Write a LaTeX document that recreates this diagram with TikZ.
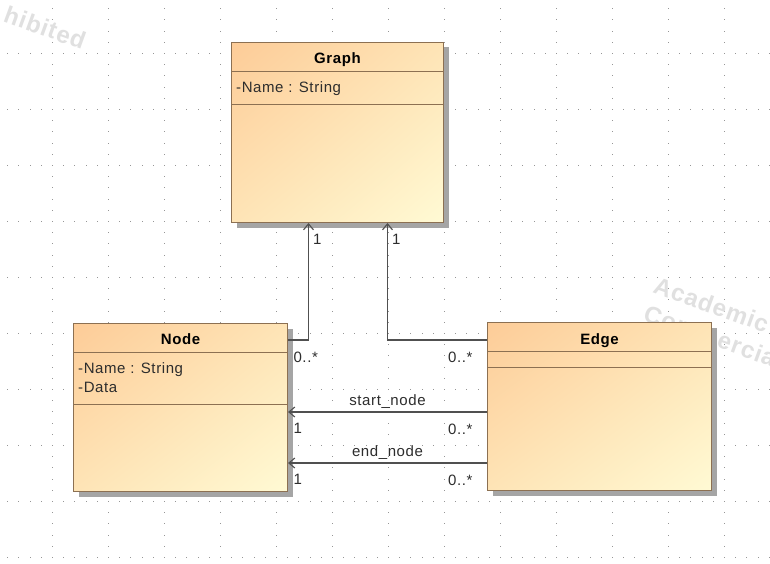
\documentclass[tikz,border=0pt]{standalone}
\usepackage{fontspec}
\setmainfont{Liberation Sans}[LetterSpace=4]
\usetikzlibrary{arrows.meta, shadows, shadings}

\definecolor{boxline}{RGB}{140,112,82}
\definecolor{shadeA}{RGB}{253,204,152}
\definecolor{shadeB}{RGB}{254,228,182}
\definecolor{shadeC}{RGB}{255,250,212}
\definecolor{shadowgray}{RGB}{165,165,165}
\definecolor{linegray}{RGB}{80,80,80}
\definecolor{textgray}{RGB}{45,45,45}
\definecolor{dotgray}{RGB}{150,150,150}
\definecolor{markgray}{RGB}{224,224,224}

\begin{document}
\begin{tikzpicture}[x=1pt,y=-1pt,
  every node/.style={font=\fontsize{15}{18}\selectfont},
  class/.style={draw=boxline,line width=1pt,anchor=north west,inner sep=0pt,
    upper left=shadeA,upper right=shadeB,lower left=shadeB,lower right=shadeC,
    drop shadow={shadow xshift=5pt,shadow yshift=-5pt,fill=shadowgray,opacity=1}},
  sep/.style={draw=boxline,line width=1pt},
  title/.style={font=\fontsize{15}{18}\selectfont\bfseries,anchor=base,inner sep=0pt},
  attr/.style={anchor=base west,inner sep=0pt,text=textgray},
  mult/.style={inner sep=0pt,text=textgray},
  role/.style={inner sep=0pt,text=textgray,anchor=base,yshift=7pt},
  assoc/.style={draw=linegray,line width=1.1pt,-{Straight Barb[length=6pt,width=10pt]}},
  watermark/.style={font=\fontsize{24}{28}\selectfont\bfseries,text=markgray,rotate=-20,inner sep=0pt}]

  \useasboundingbox (0,0) rectangle (770,564);
  \fill[white] (0,0) rectangle (770,564);

  % dotted grid
  \foreach \gy in {53,109,...,557}
    \foreach \k in {0,...,68}
      \fill[dotgray] (7.2+11.2*\k,\gy) rectangle ++(1,1);
  \foreach \gx in {52,108,...,724}
    \foreach \k in {0,...,50}
      \fill[dotgray] (\gx,8.2+11.2*\k) rectangle ++(1,1);

  % watermark
  \node[watermark,anchor=base east] (wm1) at (82,50) {hibited};
  \node[watermark,anchor=base west] (wm2) at (652,292) {Academic};
  \node[watermark,anchor=base west] (wm3) at (642,320) {Commercial};

  % classes
  \node[class,minimum width=212pt,minimum height=180pt] (graph) at (231,42) {};
  \node[class,minimum width=214pt,minimum height=168pt] (nodecl) at (73,323) {};
  \node[class,minimum width=224pt,minimum height=168pt] (edgecl) at (487,322) {};

  \draw[sep] ([yshift=-30pt]graph.north west) -- ([yshift=-30pt]graph.north east);
  \draw[sep] ([yshift=-63pt]graph.north west) -- ([yshift=-63pt]graph.north east);
  \draw[sep] ([yshift=-29pt]nodecl.north west) -- ([yshift=-29pt]nodecl.north east);
  \draw[sep] ([yshift=-81pt]nodecl.north west) -- ([yshift=-81pt]nodecl.north east);
  \draw[sep] ([yshift=-29pt]edgecl.north west) -- ([yshift=-29pt]edgecl.north east);
  \draw[sep] ([yshift=-45pt]edgecl.north west) -- ([yshift=-45pt]edgecl.north east);

  \node[title] at ([yshift=-22pt]graph.north) {Graph};
  \node[attr] at ([xshift=5pt,yshift=-51pt]graph.north west) {-Name : String};
  \node[title] at ([yshift=-21pt]nodecl.north) {Node};
  \node[attr] at ([xshift=5pt,yshift=-50pt]nodecl.north west) {-Name : String};
  \node[attr] at ([xshift=5pt,yshift=-69pt]nodecl.north west) {-Data};
  \node[title] at ([yshift=-22pt]edgecl.north) {Edge};

  % associations
  \draw[assoc] ([yshift=-17pt]nodecl.north east) -| ([xshift=-29pt]graph.south)
    node[mult,pos=0,anchor=north west,xshift=5pt,yshift=-11pt] {0..*}
    node[mult,pos=1,anchor=north west,xshift=4pt,yshift=-11pt] {1};
  \draw[assoc] ([yshift=-18pt]edgecl.north west) -| ([xshift=50pt]graph.south)
    node[mult,pos=0,anchor=north east,xshift=-14pt,yshift=-11pt] {0..*}
    node[mult,pos=1,anchor=north west,xshift=4pt,yshift=-11pt] {1};
  \draw[assoc] ([yshift=-90pt]edgecl.north west) coordinate (s1) -- (s1 -| nodecl.east)
    node[role,midway] {start\_node}
    node[mult,pos=0,anchor=north east,xshift=-14pt,yshift=-11pt] {0..*}
    node[mult,pos=1,anchor=north west,xshift=5pt,yshift=-11pt] {1};
  \draw[assoc] ([yshift=-141pt]edgecl.north west) coordinate (s2) -- (s2 -| nodecl.east)
    node[role,midway] {end\_node}
    node[mult,pos=0,anchor=north east,xshift=-14pt,yshift=-11pt] {0..*}
    node[mult,pos=1,anchor=north west,xshift=5pt,yshift=-11pt] {1};
\end{tikzpicture}
\end{document}
